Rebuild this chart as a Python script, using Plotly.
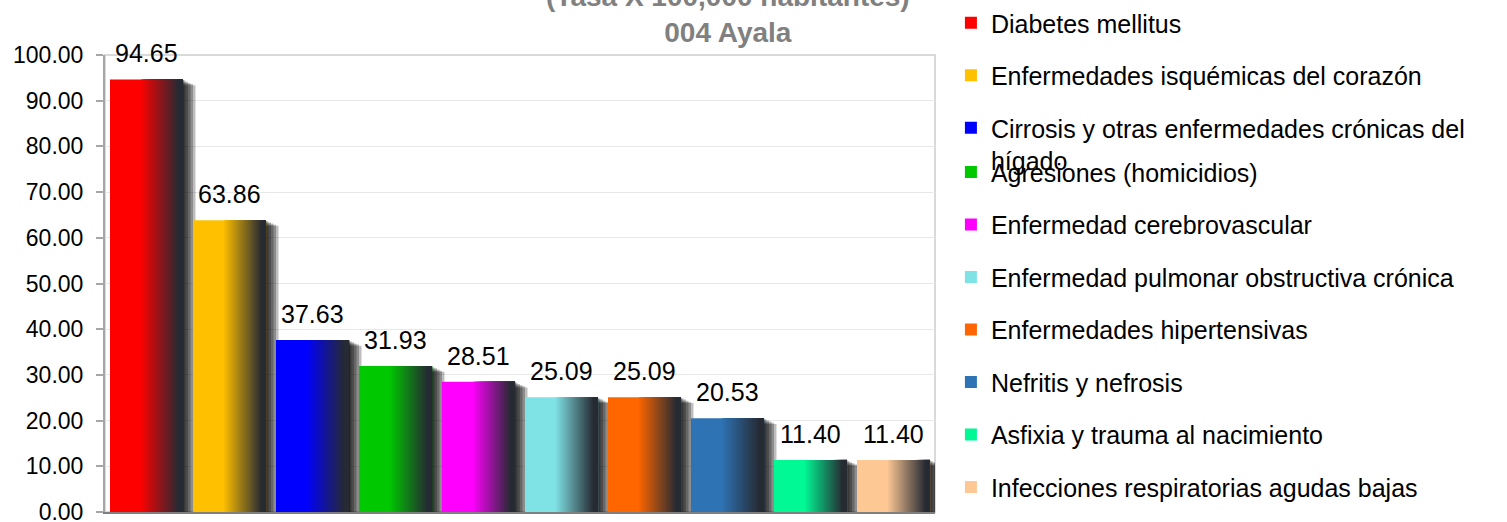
import plotly.graph_objects as go

causas = [
    'Diabetes mellitus',
    'Enfermedades isquémicas del corazón',
    'Cirrosis y otras enfermedades crónicas del<br>hígado',
    'Agresiones (homicidios)',
    'Enfermedad cerebrovascular',
    'Enfermedad pulmonar obstructiva crónica',
    'Enfermedades hipertensivas',
    'Nefritis y nefrosis',
    'Asfixia y trauma al nacimiento',
    'Infecciones respiratorias agudas bajas',
]
tasas = [94.65, 63.86, 37.63, 31.93, 28.51, 25.09, 25.09, 20.53, 11.40, 11.40]
colores = ['#FF0000', '#FFC000', '#0000FF', '#00C800', '#FF00FF',
           '#7FE3E6', '#FF6600', '#2E74B5', '#00F995', '#FDC894']
y_ticks = [0, 10, 20, 30, 40, 50, 60, 70, 80, 90, 100]

FONT = 'Liberation Sans, Arial, sans-serif'
OSCURO = (38, 42, 51)


def hex_rgb(c):
    c = c.lstrip('#')
    return tuple(int(c[i:i + 2], 16) for i in (0, 2, 4))


def mezcla(c, t):
    r = hex_rgb(c)
    return 'rgb(%d,%d,%d)' % tuple(round(a + (b - a) * t) for a, b in zip(r, OSCURO))


xs = list(range(len(tasas)))
half = 0.44
fig = go.Figure()

# sombra difusa a la derecha de cada barra
for k in range(1, 6):
    fig.add_trace(go.Bar(
        x=xs, y=[v - 0.25 * k for v in tasas],
        offset=-0.40, width=0.84 + 0.03 * k,
        marker=dict(color='rgba(0,0,0,0.26)', line=dict(width=0)),
        showlegend=False, hoverinfo='skip'))

# barra base (color sólido) con su entrada de leyenda
for i, (nombre, v, c) in enumerate(zip(causas, tasas, colores)):
    fig.add_trace(go.Bar(
        x=[xs[i]], y=[v], name=nombre,
        offset=-half, width=2 * half,
        marker=dict(color=c, line=dict(width=0)),
        legend='legend' if i < 3 else 'legend2',
        legendgroup=str(i)))

# degradado horizontal hacia oscuro
n_strips = 22
f0, f1 = 0.40, 0.93
for j in range(1, n_strips + 1):
    t = j / n_strips
    start = -half + 2 * half * (f0 + (f1 - f0) * t)
    fig.add_trace(go.Bar(
        x=xs, y=tasas,
        offset=start, width=half - start,
        marker=dict(color=[mezcla(c, t) for c in colores], line=dict(width=0)),
        showlegend=False, hoverinfo='skip'))

for x, v in zip(xs, tasas):
    fig.add_annotation(x=x, y=v, text='%.2f' % v, showarrow=False,
                       yanchor='bottom', yshift=10,
                       font=dict(family=FONT, size=25, color='black'))

fig.add_shape(type='rect', xref='paper', yref='paper', x0=0, x1=1, y0=0, y1=1,
              line=dict(color='#D9D9D9', width=2), layer='below')

leg = dict(xref='container', yref='container', x=0.631,
           xanchor='left', yanchor='top', valign='top', maxheight=600,
           tracegroupgap=17, bgcolor='rgba(0,0,0,0)',
           font=dict(family=FONT, size=25, color='black'))

fig.update_layout(
    width=1507, height=522,
    barmode='overlay',
    paper_bgcolor='white', plot_bgcolor='white',
    margin=dict(l=105, r=572, t=55, b=10),
    font=dict(family=FONT, color='black'),
    title=dict(text='(Tasa X 100,000 habitantes)<br>004 Ayala',
               xref='container', yref='container', x=0.483, xanchor='center',
               y=0.9885, yanchor='bottom',
               font=dict(family=FONT, size=28, color='#808080', weight='bold')),
    xaxis=dict(range=[-0.5, len(tasas) - 0.5], showticklabels=False, ticks='',
               showgrid=False, zeroline=False, automargin=False,
               showline=True, linecolor='#7F7F7F', linewidth=2),
    yaxis=dict(range=[0, 100], tickvals=y_ticks, tickformat='.2f',
               showgrid=True, gridcolor='#E8E8E8', gridwidth=1, zeroline=False,
               showline=True, linecolor='#A6A6A6', linewidth=2, automargin=False,
               ticks='outside', ticklen=7, tickcolor='#A6A6A6', tickwidth=2,
               ticklabelstandoff=8, ticklabeloverflow='allow',
               tickfont=dict(family=FONT, size=23, color='black')),
    legend=dict(leg, y=1.03),
    legend2=dict(leg, y=0.714),
)

fig.write_html('out.html', config={'displayModeBar': False},
               post_script="document.body.style.margin='0';")
